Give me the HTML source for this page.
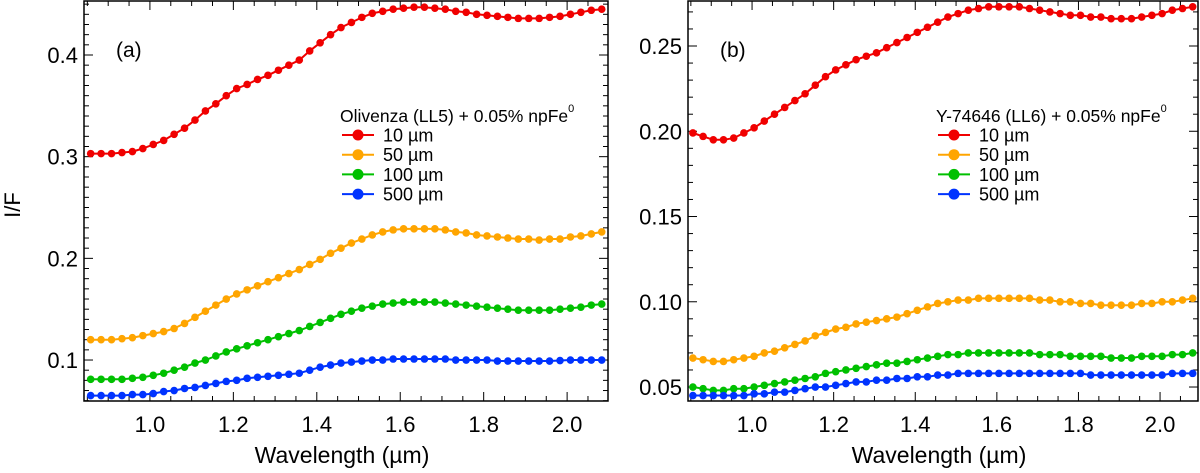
<!DOCTYPE html>
<html><head><meta charset="utf-8"><style>
body{margin:0;background:#fff;width:1200px;height:468px;overflow:hidden}
svg{font-family:"Liberation Sans",Arial,sans-serif}
</style></head><body>
<svg id="c" width="1200" height="468"></svg>
<script>
const lamA=[];for(let i=0;i<50;i++)lamA.push(+(0.858+i*0.025).toFixed(3));
const lamB=[];for(let i=0;i<50;i++)lamB.push(+(0.855+i*0.025).toFixed(3));
const redA=[.303,.303,.303,.304,.305,.308,.312,.316,.322,.328,.336,.345,.352,.360,.367,.371,.376,.380,.385,.390,.395,.404,.412,.420,.427,.432,.437,.441,.443,.445,.446,.447,.447,.446,.445,.443,.442,.440,.439,.438,.437,.436,.436,.436,.437,.438,.440,.442,.444,.445];
const orangeA=[.120,.120,.120,.121,.122,.124,.126,.128,.131,.136,.142,.148,.154,.160,.165,.169,.173,.177,.181,.185,.189,.194,.199,.205,.210,.215,.219,.223,.226,.228,.229,.229,.229,.229,.228,.226,.225,.223,.222,.221,.220,.219,.219,.218,.219,.219,.221,.222,.224,.226];
const greenA=[.081,.081,.081,.081,.082,.083,.085,.087,.090,.093,.097,.100,.104,.108,.111,.114,.117,.120,.123,.126,.129,.133,.137,.141,.145,.148,.151,.153,.155,.156,.157,.157,.157,.157,.156,.155,.154,.153,.152,.151,.150,.149,.149,.149,.149,.150,.151,.152,.154,.155];
const blueA=[.065,.065,.065,.065,.066,.066,.067,.069,.070,.072,.073,.075,.077,.079,.080,.082,.083,.084,.085,.086,.087,.090,.093,.095,.097,.098,.099,.100,.100,.101,.101,.101,.101,.101,.101,.100,.100,.100,.100,.099,.099,.099,.099,.099,.099,.0995,.100,.100,.100,.100];
const redB=[.199,.197,.195,.195,.196,.199,.202,.206,.210,.214,.218,.222,.227,.232,.236,.239,.242,.244,.246,.249,.252,.255,.258,.261,.264,.267,.269,.271,.272,.273,.273,.273,.273,.272,.271,.270,.269,.268,.268,.267,.267,.266,.266,.266,.267,.268,.269,.271,.272,.273];
const orangeB=[.067,.066,.065,.065,.066,.067,.068,.070,.071,.073,.075,.077,.080,.082,.084,.085,.087,.088,.089,.090,.091,.093,.095,.097,.099,.100,.101,.101,.102,.102,.102,.102,.102,.102,.101,.101,.100,.100,.099,.099,.098,.098,.098,.098,.099,.099,.100,.100,.101,.102];
const greenB=[.050,.049,.048,.048,.049,.049,.050,.051,.052,.053,.054,.055,.056,.058,.059,.060,.061,.062,.063,.064,.064,.065,.066,.067,.068,.069,.069,.070,.070,.070,.070,.070,.070,.070,.069,.069,.069,.068,.068,.068,.068,.067,.067,.067,.068,.068,.068,.069,.069,.070];
const blueB=[.045,.045,.045,.045,.045,.045,.046,.046,.047,.047,.048,.049,.050,.050,.051,.052,.053,.053,.054,.054,.055,.055,.056,.056,.057,.057,.058,.058,.058,.058,.058,.058,.058,.058,.058,.058,.058,.058,.058,.057,.057,.057,.057,.057,.057,.057,.057,.058,.058,.058];
const sizes=["10 µm","50 µm","100 µm","500 µm"];
const colors=["#f00000","#ffa500","#00c000","#0033ff"];
const xTicks=[1.0,1.2,1.4,1.6,1.8,2.0];
const yTicksA=[0.1,0.2,0.3,0.4];
const yTicksB=[0.05,0.10,0.15,0.20,0.25];

const NS="http://www.w3.org/2000/svg";
const svg=document.getElementById('c');
function mk(t,a,p){const e=document.createElementNS(NS,t);for(const k in a)e.setAttribute(k,a[k]);(p||svg).appendChild(e);return e;}

function panel(o){
  const g=mk('g',{});
  
  
  const X=v=>o.L+(v-o.x0)*(o.R-o.L)/(o.x1-o.x0);
  const Y=v=>o.B-(v-o.y0)*(o.B-o.T)/(o.y1-o.y0);
  for(let v=0.85;v<=o.x1+1e-9;v+=0.05){const vv=Math.round(v*100)/100;const maj=xTicks.some(t=>Math.abs(t-vv)<1e-6);const len=maj?9:5;const x=X(vv);if(x<o.L||x>o.R)continue;
    mk('line',{x1:x,x2:x,y1:o.B,y2:o.B-len,stroke:'#000','stroke-width':1},g);
    mk('line',{x1:x,x2:x,y1:o.T,y2:o.T+len,stroke:'#000','stroke-width':1},g);}
  xTicks.forEach(t=>{const tx=mk('text',{x:X(t),y:o.B+31,'font-size':22,'text-anchor':'middle'},g);tx.textContent=t.toFixed(1);
    });
  const st=0.01;
  for(let v=Math.ceil(o.y0/st)*st;v<=o.y1;v+=st){const vv=Math.round(v*1000)/1000;const maj=o.yt.some(t=>Math.abs(t-vv)<1e-6);const len=maj?9:5;const y=Y(vv);
    mk('line',{x1:o.L,x2:o.L+len,y1:y,y2:y,stroke:'#000','stroke-width':1},g);
    mk('line',{x1:o.R,x2:o.R-len,y1:y,y2:y,stroke:'#000','stroke-width':1},g);}
  o.yt.forEach(t=>{const tx=mk('text',{x:o.L-6,y:Y(t)+8,'font-size':22,'text-anchor':'end'},g);tx.textContent=t.toFixed(o.dec);
    });
  mk('rect',{x:o.L,y:o.T,width:o.R-o.L,height:o.B-o.T,fill:'none',stroke:'#000','stroke-width':1.5},g);
  o.series.forEach((s,i)=>{
    const pts=s.map((v,j)=>X(o.lam[j]).toFixed(1)+','+Y(v).toFixed(1)).join(' ');
    const pl=mk('polyline',{points:pts,fill:'none',stroke:colors[i],'stroke-width':2},g);
    
    
    s.forEach((v,j)=>{const c=mk('circle',{cx:X(o.lam[j]),cy:Y(v),r:3.8,fill:colors[i]},g);
      });
  });
  const pl=mk('text',{x:o.L+32,y:57,'font-size':21},g);pl.textContent=o.label;
  
  const lt=mk('text',{x:o.lx,y:122,'font-size':17.5},g);lt.textContent=o.title;
  const sp=mk('tspan',{dy:-10,'font-size':11},lt);sp.textContent='0';
  
  sizes.forEach((s,i)=>{const y=135+i*19.7;
    const lg=mk('g',{},g);
    mk('line',{x1:o.lx+2,x2:o.lx+34,y1:y,y2:y,stroke:colors[i],'stroke-width':2},lg);
    mk('circle',{cx:o.lx+18,cy:y,r:5.5,fill:colors[i]},lg);
    const t=mk('text',{x:o.lx+43,y:y+6.5,'font-size':18},lg);t.textContent=s;});
  const xt=mk('text',{x:(o.L+o.R)/2-4,y:463,'font-size':23,'text-anchor':'middle'},g);xt.textContent='Wavelength (µm)';
  
}
panel({name:'panel-a',L:84,R:608,T:1,B:401,x0:0.842,x1:2.098,y0:0.0597,y1:0.4531,yt:yTicksA,dec:1,lam:lamA,series:[redA,orangeA,greenA,blueA],label:'(a)',title:'Olivenza (LL5) + 0.05% npFe',lx:340});
panel({name:'panel-b',L:688,R:1198,T:1,B:401,x0:0.843,x1:2.093,y0:0.0418,y1:0.2764,yt:yTicksB,dec:2,lam:lamB,series:[redB,orangeB,greenB,blueB],label:'(b)',title:'Y-74646 (LL6) + 0.05% npFe',lx:936});
const yt=mk('text',{x:0,y:0,'font-size':22,'text-anchor':'middle',transform:'translate(20,205) rotate(-90)'});yt.textContent='I/F';


</script>
</body></html>
